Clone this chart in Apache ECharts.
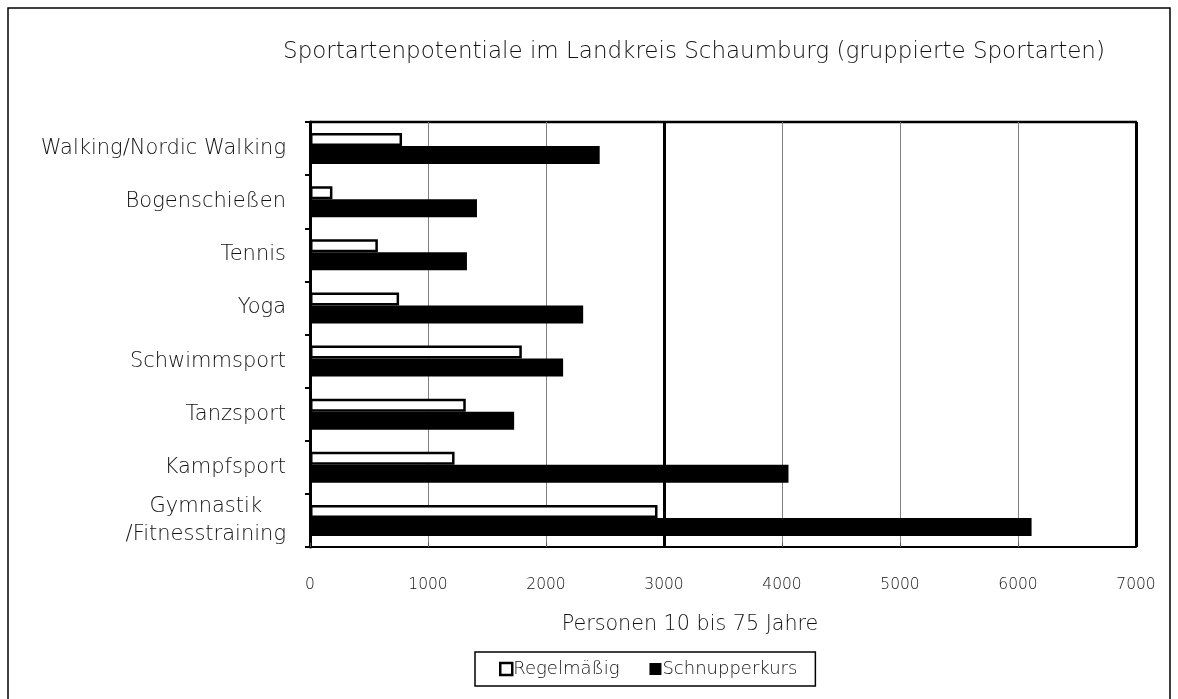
<!DOCTYPE html>
<html>
<head>
<meta charset="utf-8">
<script src="https://cdn.jsdelivr.net/npm/echarts@6/dist/echarts.min.js"></script>
<style>
  html, body { margin: 0; padding: 0; background: #fff; }
  #chart { width: 1178px; height: 699px; }
</style>
</head>
<body>
<div id="chart"></div>
<script>
// Sport categories, top to bottom
const categories = [
  'Walking/Nordic Walking',
  'Bogenschießen',
  'Tennis',
  'Yoga',
  'Schwimmsport',
  'Tanzsport',
  'Kampfsport',
  'Gymnastik\n/Fitnesstraining'
];
// Persons aged 10-75, regular participation
const regelmaessig = [780, 190, 575, 755, 1795, 1320, 1225, 2945];
// Persons aged 10-75, taster course
const schnupperkurs = [2455, 1415, 1330, 2315, 2145, 1730, 4055, 6115];
// Value axis ticks
const xTicks = [0, 1000, 2000, 3000, 4000, 5000, 6000, 7000];

const FONT = '"DejaVu Sans", sans-serif';
const chart = echarts.init(document.getElementById('chart'), null, { renderer: 'canvas' });

chart.setOption({
  backgroundColor: '#fff',
  animation: false,
  title: {
    text: 'Sportartenpotentiale im Landkreis Schaumburg (gruppierte Sportarten)',
    left: 689,
    textAlign: 'center',
    top: 36,
    textStyle: { fontFamily: FONT, fontSize: 23, fontWeight: 200, color: '#111' }
  },
  legend: {
    left: 475,
    top: 652,
    itemWidth: 12,
    itemHeight: 12,
    itemGap: 30,
    padding: [8, 18, 8, 24],
    borderColor: '#000',
    borderWidth: 1.5,
    textStyle: { fontFamily: FONT, fontSize: 18, fontWeight: 200, color: '#111', padding: [0, 0, 0, -4] },
    data: [
      { name: 'Regelmäßig', icon: 'rect', itemStyle: { color: '#fff', borderColor: '#000', borderWidth: 2.5 } },
      { name: 'Schnupperkurs', icon: 'rect', itemStyle: { color: '#000' } }
    ]
  },
  grid: { left: 310, right: 42, top: 122, bottom: 152, containLabel: false },
  xAxis: {
    type: 'value',
    min: xTicks[0],
    max: xTicks[xTicks.length - 1],
    interval: 1000,
    name: 'Personen 10 bis 75 Jahre',
    nameLocation: 'middle',
    nameGap: 67,
    nameTextStyle: { fontFamily: FONT, fontSize: 20.7, fontWeight: 200, color: '#111', padding: [0, 66, 0, 0] },
    axisLine: { show: true, lineStyle: { color: '#000', width: 2 } },
    axisTick: { show: true, length: 4, inside: true, lineStyle: { color: '#555', width: 1 } },
    axisLabel: {
      fontFamily: FONT, fontSize: 15.5, fontWeight: 200, color: '#111', margin: 30,
      formatter: function (v) { return String(v); }
    },
    splitLine: { show: true, lineStyle: { color: '#808080', width: 1 } }
  },
  yAxis: {
    type: 'category',
    data: categories,
    inverse: true,
    axisLine: { show: true, lineStyle: { color: '#000', width: 3 } },
    axisTick: { show: true, length: 5, lineStyle: { color: '#000', width: 2 } },
    axisLabel: {
      fontFamily: FONT, fontSize: 21, fontWeight: 200, color: '#111', margin: 24, lineHeight: 28,
      formatter: function (v) {
        return v.indexOf('\n') >= 0 ? '{c|' + v + '}' : v;
      },
      rich: { c: { fontFamily: FONT, fontSize: 21, fontWeight: 200, color: '#111', lineHeight: 28, align: 'center' } }
    },
    splitLine: { show: false }
  },
  series: [
    {
      name: 'Regelmäßig',
      type: 'bar',
      data: regelmaessig,
      barWidth: 13,
      barGap: '0%',
      barCategoryGap: '40%',
      itemStyle: { color: '#fff', borderColor: '#000', borderWidth: 2.5 },
      z: 3,
      markLine: {
        silent: true,
        symbol: 'none',
        label: { show: false },
        lineStyle: { color: '#000', width: 3, type: 'solid' },
        data: [{ xAxis: 3000 }, { xAxis: 7000 }]
      }
    },
    {
      name: 'Schnupperkurs',
      type: 'bar',
      data: schnupperkurs,
      barWidth: 18,
      itemStyle: { color: '#000' },
      z: 2
    }
  ],
  graphic: [
    {
      type: 'rect',
      shape: { x: 8, y: 8, width: 1162, height: 720 },
      style: { fill: 'none', stroke: '#000', lineWidth: 1.5 },
      silent: true
    },
    {
      type: 'line',
      shape: { x1: 310, y1: 122, x2: 1137, y2: 122 },
      style: { stroke: '#000', lineWidth: 2.5 },
      silent: true
    }
  ]
});
</script>
</body>
</html>
